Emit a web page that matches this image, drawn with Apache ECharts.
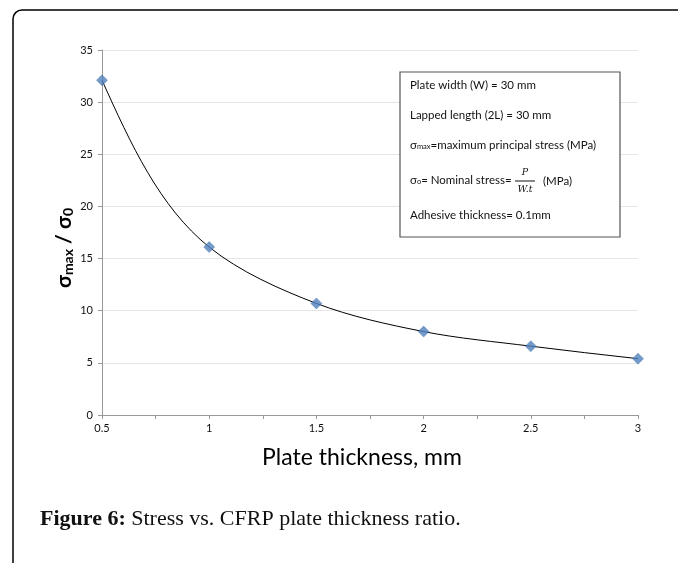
<!DOCTYPE html>
<html>
<head>
<meta charset="utf-8">
<style>
html,body{margin:0;padding:0;background:#fff;}
#chart{width:678px;height:563px;}
</style>
<script src="https://cdn.jsdelivr.net/npm/echarts@6/dist/echarts.min.js"></script>
</head>
<body>
<div id="chart"></div>
<script>
// Data
var thickness = [0.5, 1, 1.5, 2, 2.5, 3];
var stressRatio = [32.1, 16.1, 10.7, 8.0, 6.6, 5.4];
var yTicks = [0, 5, 10, 15, 20, 25, 30, 35];
var xTickLabels = ['0.5', '1', '1.5', '2', '2.5', '3'];
var boxLines = [
  'Plate width (W) = 30 mm',
  'Lapped length (2L) = 30 mm',
  'maximum principal stress (MPa)',
  'Nominal stress=',
  'Adhesive thickness= 0.1mm'
];
var captionBold = 'Figure 6:';
var captionText = ' Stress vs. CFRP plate thickness ratio.';

var pts = thickness.map(function (x, i) { return [x, stressRatio[i]]; });
var labelFont = 'Lato, "Open Sans", sans-serif';
var serifFont = '"Liberation Serif", "DejaVu Serif", serif';

// Smoothed line: chordal Catmull-Rom spline -> cubic Beziers, through pixel coords given by the axes
function renderSmooth(params, api) {
  if (params.dataIndex !== 0) return null;
  var c = pts.map(function (p) { return api.coord(p); });
  var n = c.length;
  var d = [];
  for (var i = 0; i < n - 1; i++) {
    d.push(Math.hypot(c[i + 1][0] - c[i][0], c[i + 1][1] - c[i][1]));
  }
  var m = new Array(n);
  for (var i = 1; i < n - 1; i++) {
    var a = d[i - 1], b = d[i];
    m[i] = [0, 1].map(function (k) {
      return (c[i][k] - c[i - 1][k]) / a - (c[i + 1][k] - c[i - 1][k]) / (a + b) + (c[i + 1][k] - c[i][k]) / b;
    });
  }
  m[0] = [0, 1].map(function (k) { return (3 * (c[1][k] - c[0][k]) / d[0] - m[1][k]) / 2; });
  m[n - 1] = [0, 1].map(function (k) { return (3 * (c[n - 1][k] - c[n - 2][k]) / d[n - 2] - m[n - 2][k]) / 2; });
  var path = 'M' + c[0][0] + ' ' + c[0][1];
  for (var i = 0; i < n - 1; i++) {
    var s = d[i] / 3;
    path += ' C' + (c[i][0] + m[i][0] * s) + ' ' + (c[i][1] + m[i][1] * s) + ' ' +
      (c[i + 1][0] - m[i + 1][0] * s) + ' ' + (c[i + 1][1] - m[i + 1][1] * s) + ' ' +
      c[i + 1][0] + ' ' + c[i + 1][1];
  }
  return {
    type: 'path',
    shape: { pathData: path },
    style: { fill: 'none', stroke: '#000', lineWidth: 1 }
  };
}

var chart = echarts.init(document.getElementById('chart'));
chart.setOption({
  animation: false,
  backgroundColor: '#fff',
  grid: { left: 102, right: 40, top: 50, bottom: 148, containLabel: false },
  xAxis: {
    type: 'value', min: 0.5, max: 3, interval: 0.25,
    axisLine: { show: true, lineStyle: { color: '#999', width: 1 } },
    axisTick: { show: true, length: 4, lineStyle: { color: '#999' } },
    splitLine: { show: false },
    axisLabel: {
      color: '#111', fontSize: 11, fontFamily: labelFont, margin: 8,
      formatter: function (v) {
        var k = Math.round(v * 100) / 100;
        var idx = thickness.indexOf(k);
        return idx >= 0 ? xTickLabels[idx] : '';
      }
    },
    name: 'Plate thickness, mm', nameLocation: 'middle', nameGap: 31,
    nameTextStyle: { color: '#000', fontSize: 23, fontFamily: labelFont, padding: [0, 16, 0, 0] }
  },
  yAxis: {
    type: 'value', min: 0, max: 35, interval: 5,
    axisLine: { show: true, lineStyle: { color: '#999', width: 1 } },
    axisTick: { show: true, length: 4, lineStyle: { color: '#999' } },
    splitLine: { show: true, lineStyle: { color: '#e6e6e6', width: 1 } },
    axisLabel: {
      color: '#111', fontSize: 11, fontFamily: labelFont, margin: 9,
      formatter: function (v) { return String(v); }
    }
  },
  series: [
    {
      type: 'custom', data: pts, renderItem: renderSmooth, z: 2, silent: true,
      encode: { x: 0, y: 1 }
    },
    {
      type: 'scatter', data: pts, symbol: 'diamond', symbolSize: 11,
      itemStyle: { color: '#4F81BD', borderColor: '#3E6CA4', borderWidth: 0.5 }, z: 3
    }
  ],
  graphic: [
    {
      type: 'rect', shape: { x: 13, y: 10, width: 720, height: 620, r: 9 },
      style: { fill: 'none', stroke: '#000', lineWidth: 1.5 }, z: 0, silent: true
    },
    {
      type: 'text', x: 62, y: 248, rotation: Math.PI / 2, z: 11,
      style: {
        text: '{a|σ}{b|max}{a| / σ}{b|0}', align: 'center', verticalAlign: 'middle',
        rich: {
          a: { fontSize: 21, fontWeight: 'bold', fontFamily: labelFont, fill: '#000', lineHeight: 26, verticalAlign: 'bottom' },
          b: { fontSize: 14, fontWeight: 'bold', fontFamily: labelFont, fill: '#000', lineHeight: 22, verticalAlign: 'bottom' }
        }
      }
    },
    {
      type: 'rect', shape: { x: 400, y: 72, width: 220, height: 165 },
      style: { fill: '#fff', stroke: '#555', lineWidth: 1.2 }, z: 10
    },
    {
      type: 'text', left: 410, top: 79, z: 11,
      style: { text: boxLines[0], fontSize: 11.5, fontFamily: labelFont, fill: '#111' }
    },
    {
      type: 'text', left: 410, top: 109, z: 11,
      style: { text: boxLines[1], fontSize: 11.5, fontFamily: labelFont, fill: '#111' }
    },
    {
      type: 'text', left: 410, top: 139, z: 11,
      style: {
        text: '{s|σ}{u|max}{s|=' + boxLines[2] + '}',
        rich: {
          s: { fontSize: 11.5, fontFamily: labelFont, fill: '#111', lineHeight: 15, verticalAlign: 'bottom' },
          u: { fontSize: 7.5, fontFamily: labelFont, fill: '#111', lineHeight: 11, verticalAlign: 'bottom' }
        }
      }
    },
    {
      type: 'text', left: 410, top: 174, z: 11,
      style: {
        text: '{s|σ}{u|o}{s|= ' + boxLines[3] + '}',
        rich: {
          s: { fontSize: 11.5, fontFamily: labelFont, fill: '#111', lineHeight: 15, verticalAlign: 'bottom' },
          u: { fontSize: 7.5, fontFamily: labelFont, fill: '#111', lineHeight: 11, verticalAlign: 'bottom' }
        }
      }
    },
    {
      type: 'text', x: 525, y: 173, z: 11,
      style: { text: 'P', fontSize: 9.5, fontStyle: 'italic', fontFamily: '"DejaVu Serif", serif', fill: '#111', align: 'center', verticalAlign: 'middle' }
    },
    {
      type: 'line', shape: { x1: 515, y1: 181, x2: 535, y2: 181 }, z: 11,
      style: { stroke: '#111', lineWidth: 1 }
    },
    {
      type: 'text', x: 525, y: 190, z: 11,
      style: { text: 'W.t', fontSize: 9.5, fontStyle: 'italic', fontFamily: '"DejaVu Serif", serif', fill: '#111', align: 'center', verticalAlign: 'middle' }
    },
    {
      type: 'text', left: 543, top: 175, z: 11,
      style: { text: '(MPa)', fontSize: 11.5, fontFamily: labelFont, fill: '#111' }
    },
    {
      type: 'text', left: 410, top: 209, z: 11,
      style: { text: boxLines[4], fontSize: 11.5, fontFamily: labelFont, fill: '#111' }
    },
    {
      type: 'text', left: 40, top: 508, z: 11,
      style: {
        text: '{b|' + captionBold + '}{r|' + captionText + '}',
        rich: {
          b: { fontSize: 22, fontWeight: 'bold', fontFamily: serifFont, fill: '#111' },
          r: { fontSize: 22, fontFamily: serifFont, fill: '#111' }
        }
      }
    }
  ]
});
</script>
</body>
</html>
